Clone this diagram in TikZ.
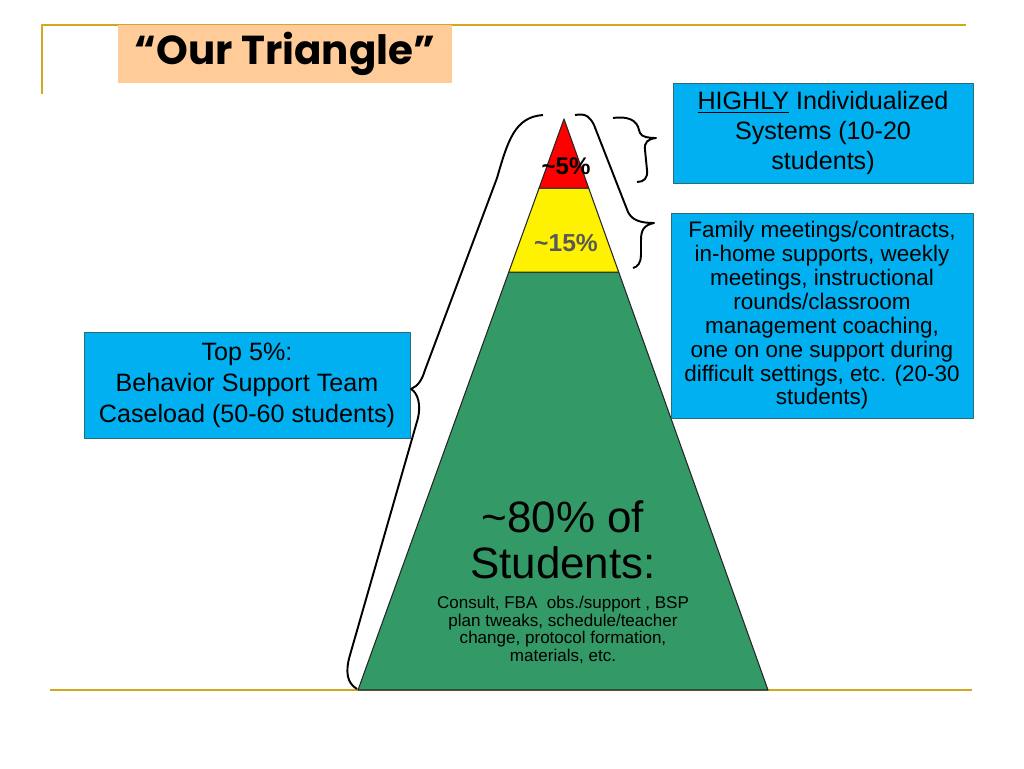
\documentclass[tikz,border=0pt]{standalone}
\usepackage{fontspec}
\usepackage{tikz}
\usetikzlibrary{calc}
\setmainfont{Liberation Sans}
\newfontfamily\titlefont{Poppins}
\definecolor{boxblue}{RGB}{0,176,240}
\definecolor{boxedge}{RGB}{40,110,120}
\definecolor{peach}{RGB}{255,204,153}
\definecolor{gold}{RGB}{214,166,30}
\definecolor{pgreen}{RGB}{51,153,102}
\definecolor{labelgray}{RGB}{89,89,89}

\begin{document}
\begin{tikzpicture}[x=0.02cm, y=-0.02cm, line join=round, box/.style = {shape=rectangle, draw=boxedge, fill=boxblue, align=center, inner sep=0pt, line width=0.5pt}, band/.style = {draw=black!85, line width=0.6pt}, brace/.style = {draw=black, line width=1.1pt}, rule/.style = {draw=gold, line width=1.6pt}]
	\useasboundingbox (0,0) rectangle (1024,768);
	% slide rules
	\draw[rule] (42,94) -- (42,25) -- (966,25);
	\draw[rule] (50,690) -- (972,690);
	\node[fill=peach, minimum width=6.68cm, minimum height=1.16cm, inner sep=0pt, font=\titlefont\bfseries\fontsize{23}{28}\selectfont] (title) at (285,54) {“Our Triangle”};
	% triangle
	\coordinate (apex) at (564,119);
	\coordinate (bl) at (358,690);
	\coordinate (br) at (768,690);
	\coordinate (rl) at ($(apex)!0.121!(bl)$);
	\coordinate (rr) at ($(apex)!0.121!(br)$);
	\coordinate (yl) at ($(apex)!0.268!(bl)$);
	\coordinate (yr) at ($(apex)!0.268!(br)$);
	\path[band, fill=pgreen] (yl) -- (yr) -- (br) -- (bl) -- cycle;
	\path[band, fill=yellow] (rl) -- (rr) -- (yr) -- (yl) -- cycle;
	\path[band, fill=red] (apex) -- (rr) -- (rl) -- cycle;
	\node[font=\bfseries\fontsize{13.7}{16}\selectfont] (pfive) at (566,166) {\textasciitilde 5\%};
	\node[text=labelgray, font=\bfseries\fontsize{14}{16}\selectfont] (pfifteen) at (566,243) {\textasciitilde 15\%};
	\node[align=center, font=\fontsize{25}{26}\selectfont] (eighty) at (563,540) {\textasciitilde 80\% of\\Students:};
	\node[align=center, font=\fontsize{9.7}{10}\selectfont] (consult) at (563,630) {Consult, FBA~ obs./support , BSP\\plan tweaks, schedule/teacher\\change, protocol formation,\\materials, etc.};
	% boxes
	\node[box, minimum width=6cm, minimum height=2cm, font=\fontsize{14.3}{17}\selectfont] (highly) at (823,133) {\underline{HIGHLY} Individualized\\Systems (10-20\\students)};
	\node[box, minimum width=6.04cm, minimum height=4.1cm, font=\fontsize{12.8}{13.6}\selectfont] (family) at (822,315.5) {Family meetings/contracts,\\in-home supports, weekly\\meetings, instructional\\rounds/classroom\\management coaching,\\one on one support during\\difficult settings, etc. (20-30\\students)};
	\node[box, minimum width=6.52cm, minimum height=2.12cm, font=\fontsize{14.3}{17.6}\selectfont] (topfive) at (247,385) {Top 5\%:\\Behavior Support Team\\Caseload (50-60 students)};
	% braces
	\draw[brace] (357,689) .. controls (347,683) and (345,672) .. (350,655) -- (418,418) .. controls (421,405) and (418,393) .. (411,389) .. controls (418,386) and (422,380) .. (425,370) -- (497,178) .. controls (508,140) and (515,117) .. (543,115);
	\draw[brace] (575,115) .. controls (586,113) and (590,117) .. (594,125) -- (628,212) .. controls (632,220) and (640,223) .. (654,223) .. controls (644,225) and (641,230) .. (641,240) -- (641,255) .. controls (641,262) and (638,267) .. (633,268);
	\draw[brace] (613,118) .. controls (628,116) and (637,120) .. (639,130) -- (640,133) .. controls (642,137) and (648,138) .. (656,138) .. controls (648,139) and (644,142) .. (645,150) -- (647,170) .. controls (648,178) and (644,182) .. (637,182);
\end{tikzpicture}
\end{document}
